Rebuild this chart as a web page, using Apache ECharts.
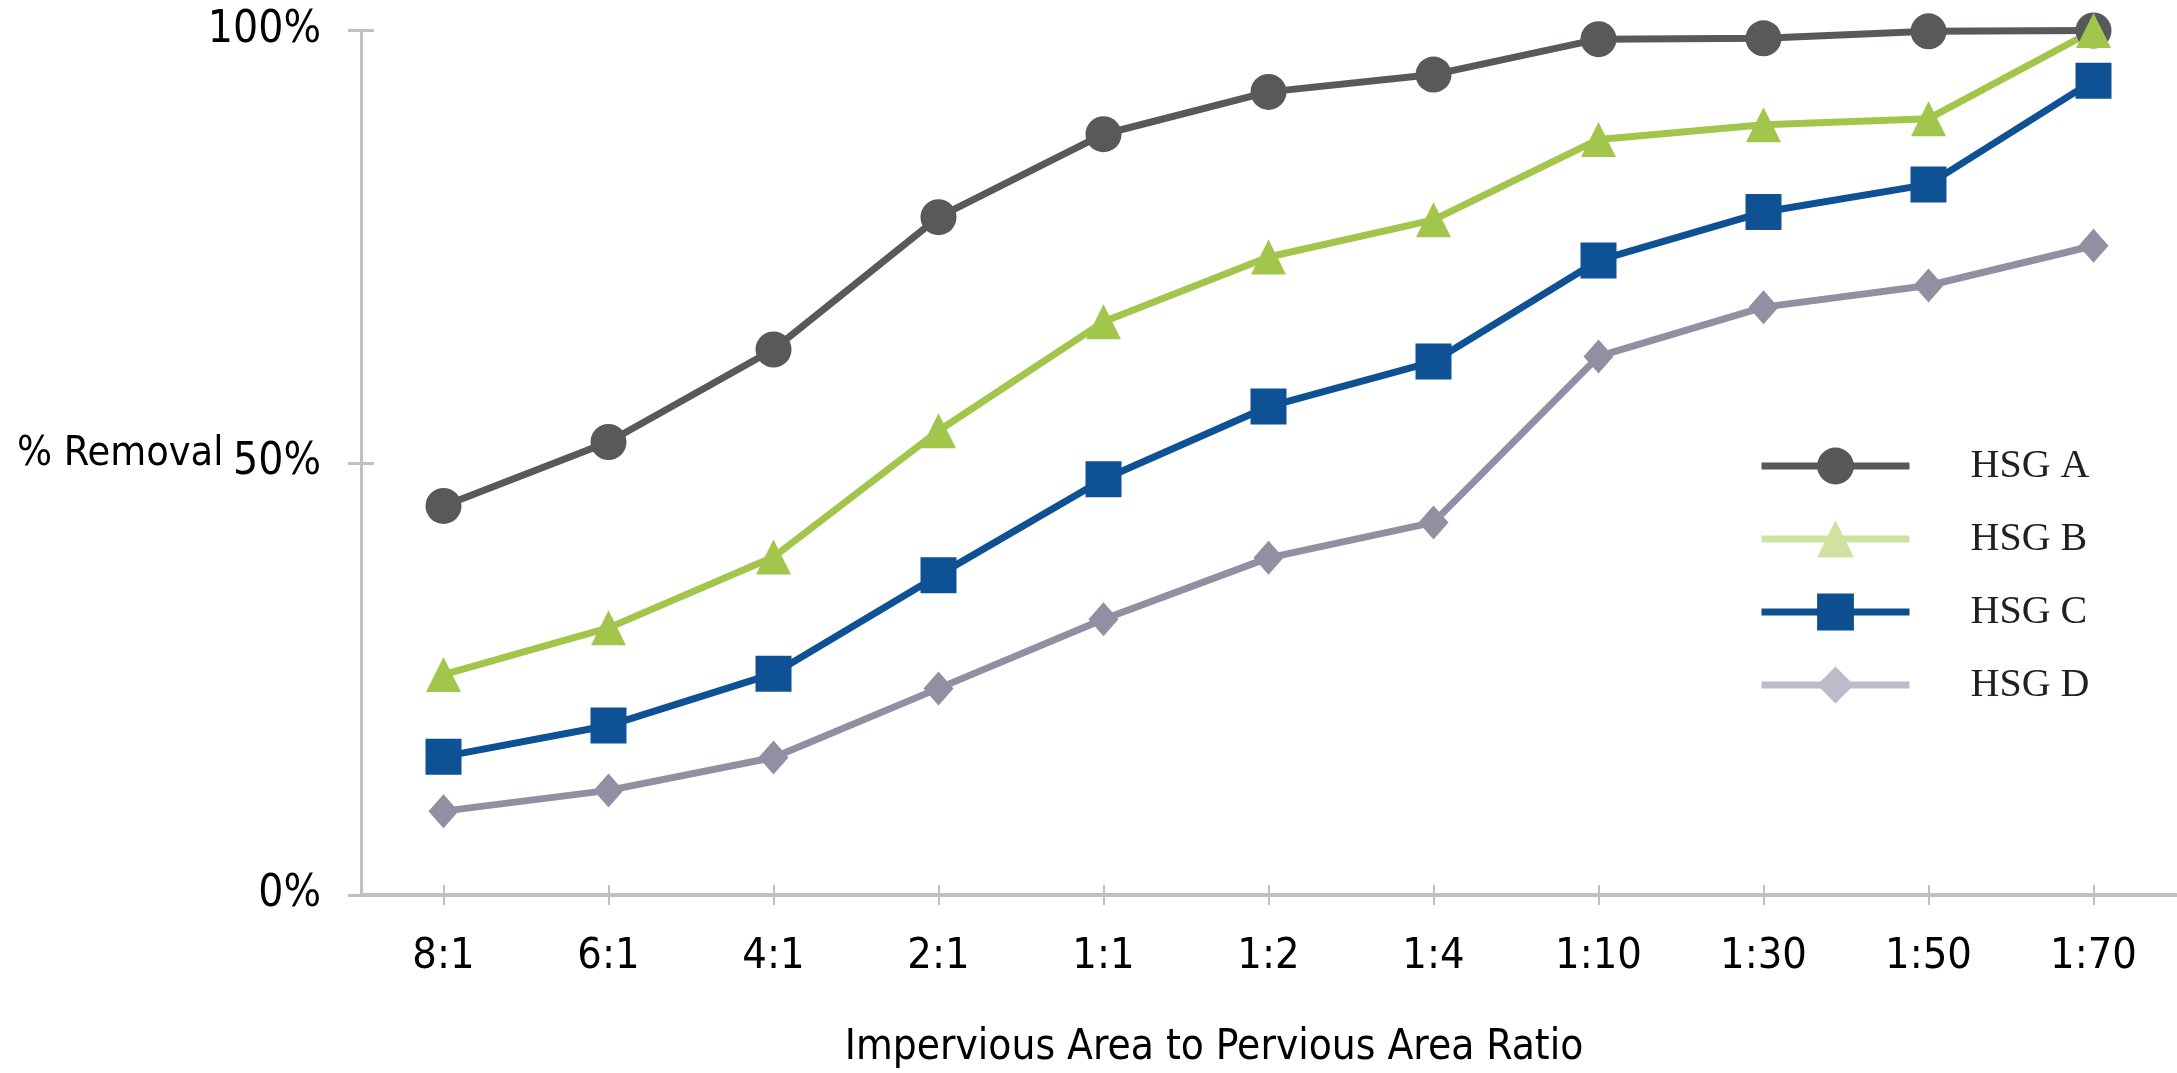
<!DOCTYPE html>
<html>
<head>
<meta charset="utf-8">
<style>
  html, body { margin: 0; padding: 0; background: #ffffff; }
  #chart { width: 2177px; height: 1073px; }
</style>
<script src="https://cdn.jsdelivr.net/npm/echarts@6/dist/echarts.min.js"></script>
</head>
<body>
<div id="chart"></div>
<script>
// Impervious-to-pervious area ratios (x axis)
const ratios = ['8:1', '6:1', '4:1', '2:1', '1:1', '1:2', '1:4', '1:10', '1:30', '1:50', '1:70'];

// Percent removal by hydrologic soil group
const hsgA = [45, 52.4, 63.1, 78.4, 88, 92.9, 94.9, 99, 99.1, 99.9, 100];
const hsgB = [25.5, 30.9, 39.1, 53.7, 66.3, 73.8, 78.1, 87.4, 89.1, 89.8, 100];
const hsgC = [16, 19.6, 25.6, 37, 48.1, 56.5, 61.7, 73.4, 79, 82.2, 94.2];
const hsgD = [9.7, 12.1, 15.9, 23.9, 31.9, 39, 43.1, 62.3, 68, 70.5, 75.1];

const seriesNames = ['HSG A', 'HSG B', 'HSG C', 'HSG D'];
const yTicks = [0, 50, 100];

const sansFont = "'DejaVu Sans Condensed', 'DejaVu Sans', sans-serif";
const narrowFont = "'Liberation Sans Narrow', 'DejaVu Sans Condensed', sans-serif";
const serifFont = "'Liberation Serif', 'DejaVu Serif', serif";
const axisGrey = '#c0c0c0';

const lineColors = ['#58595b', '#a2c64b', '#0e5194', '#938fa3'];
const legendColors = ['#57585a', '#cfe2a0', '#0d4f91', '#bdbbca'];

const chart = echarts.init(document.getElementById('chart'), null, { renderer: 'canvas' });

function makeSeries(name, data, symbol, size, color) {
  return {
    name: name,
    type: 'line',
    xAxisIndex: 0,
    yAxisIndex: 0,
    data: data,
    symbol: symbol,
    symbolSize: size,
    showAllSymbol: true,
    lineStyle: { color: color, width: 7 },
    itemStyle: { color: color },
    emphasis: { disabled: true },
    animation: false
  };
}

const option = {
  backgroundColor: '#ffffff',
  animation: false,
  grid: { left: 361, right: 1, top: 30.5, bottom: 178, containLabel: false },
  xAxis: [
    {
      type: 'category',
      data: ratios,
      boundaryGap: true,
      axisLine: { show: true, lineStyle: { color: axisGrey, width: 4 } },
      axisTick: { show: true, alignWithLabel: true, length: 10, lineStyle: { color: axisGrey, width: 2 } },
      axisLabel: { color: '#000000', fontFamily: sansFont, fontSize: 43, margin: 40 },
      splitLine: { show: false }
    },
    {
      // inner half of the crossing tick marks
      type: 'category',
      data: ratios,
      position: 'bottom',
      boundaryGap: true,
      axisLine: { show: false },
      axisTick: { show: true, inside: true, alignWithLabel: true, length: 10, lineStyle: { color: axisGrey, width: 2 } },
      axisLabel: { show: false },
      splitLine: { show: false }
    }
  ],
  yAxis: [
    {
      type: 'value',
      min: 0,
      max: 100,
      interval: 50,
      axisLine: { show: true, lineStyle: { color: axisGrey, width: 3 } },
      axisTick: { show: true, length: 13, lineStyle: { color: axisGrey, width: 3 } },
      axisLabel: {
        color: '#000000', fontFamily: narrowFont, fontSize: 44, margin: 40,
        formatter: function (v) { return yTicks.indexOf(v) >= 0 ? v + '%' : ''; }
      },
      splitLine: { show: false }
    },
    {
      type: 'value',
      position: 'left',
      min: 0,
      max: 100,
      interval: 50,
      axisLine: { show: false },
      axisTick: { show: true, inside: true, length: 13, lineStyle: { color: axisGrey, width: 3 } },
      axisLabel: { show: false },
      splitLine: { show: false }
    }
  ],
  legend: {
    orient: 'vertical',
    left: 1758,
    top: 446,
    padding: 0,
    itemWidth: 148,
    itemHeight: 46,
    itemGap: 33,
    selectedMode: false,
    textStyle: { fontFamily: serifFont, fontSize: 40, color: '#231f20', padding: [0, 0, 0, 56] },
    data: seriesNames.map(function (n, i) {
      return { name: n, itemStyle: { color: legendColors[i] }, lineStyle: { color: legendColors[i], width: 7 } };
    })
  },
  graphic: [
    {
      type: 'text',
      x: 17,
      y: 454,
      style: {
        text: '% Removal',
        fontSize: 41,
        fontFamily: sansFont,
        fill: '#000000',
        textAlign: 'left',
        textVerticalAlign: 'middle'
      }
    },
    {
      type: 'text',
      x: 1214,
      y: 1048,
      style: {
        text: 'Impervious Area to Pervious Area Ratio',
        fontSize: 42,
        fontFamily: sansFont,
        fill: '#000000',
        textAlign: 'center',
        textVerticalAlign: 'middle'
      }
    }
  ],
  series: [
    makeSeries(seriesNames[0], hsgA, 'circle', 36, lineColors[0]),
    makeSeries(seriesNames[1], hsgB, 'triangle', 35, lineColors[1]),
    makeSeries(seriesNames[2], hsgC, 'rect', 36, lineColors[2]),
    makeSeries(seriesNames[3], hsgD, 'diamond', [30, 34], lineColors[3])
  ]
};

chart.setOption(option);
</script>
</body>
</html>
